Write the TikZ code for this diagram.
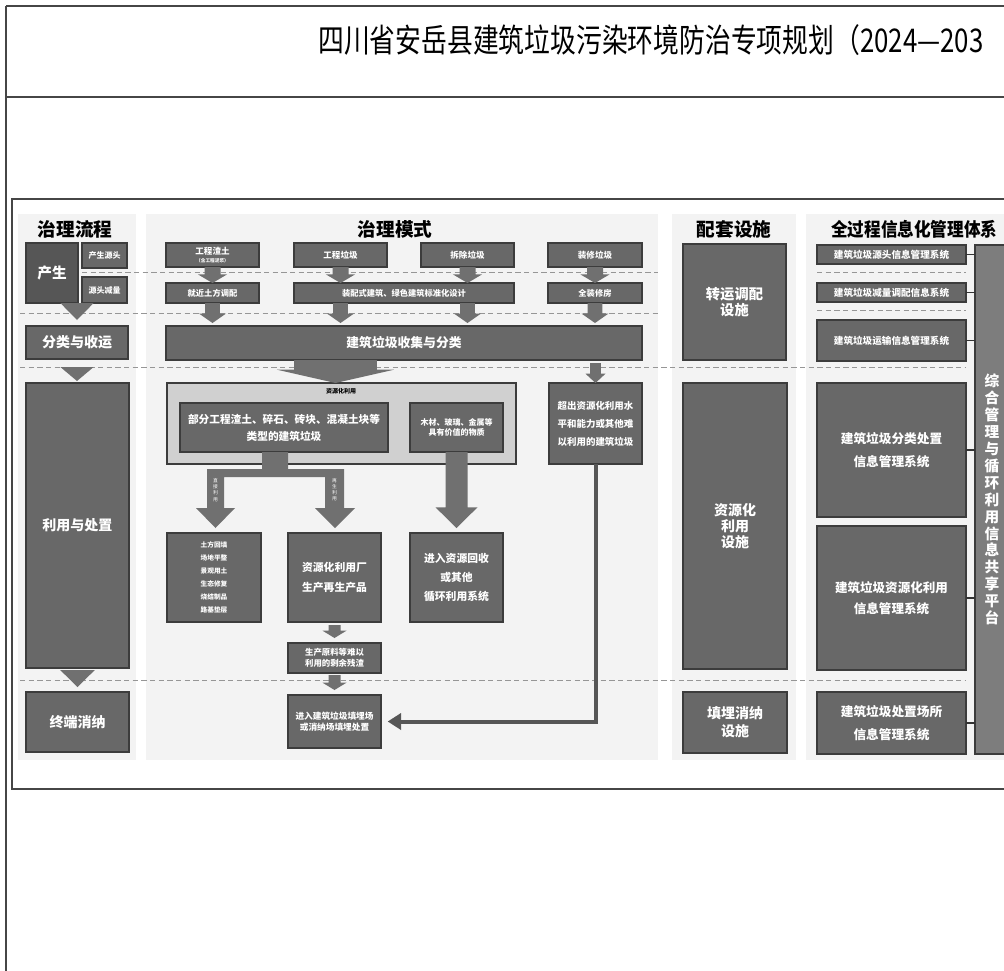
\documentclass[tikz,border=0pt]{standalone}
\usepackage{fontspec}
\setmainfont{Noto Sans CJK SC}
\newfontfamily\cjk{Noto Sans CJK SC}
\usepackage{graphicx}
\usetikzlibrary{arrows.meta,calc}
\definecolor{boxg}{RGB}{104,104,104}
\definecolor{boxdk}{RGB}{86,86,86}
\definecolor{boxd}{RGB}{60,60,60}
\definecolor{contg}{RGB}{208,208,208}
\definecolor{arwg}{RGB}{112,112,112}
\definecolor{panelg}{RGB}{243,243,243}
\definecolor{dashg}{RGB}{150,150,150}
\definecolor{frameg}{RGB}{70,70,70}
\definecolor{platg}{RGB}{125,125,125}
\tikzset{
 box/.style={draw=boxd,fill=boxg,line width=0.8pt,text=white,align=center,inner sep=1pt,outer sep=0pt,anchor=north west},
 fs/.style 2 args={font=\cjk\bfseries\fontsize{#1}{#2}\selectfont},
 hdr/.style={font=\cjk\bfseries\fontsize{14}{16}\selectfont,text=black,inner sep=0pt},
 dsh/.style={draw=dashg,line width=0.6pt,dash pattern=on 4pt off 2.5pt},
 arw/.style={fill=arwg},
 conn/.style={draw=boxdk,line width=3pt,-{Triangle[length=10pt,width=12pt]},shorten >=5pt},
 lk/.style={draw=black!80,line width=1.2pt},
 frm/.style={draw=frameg,line width=0.9pt},
 panel/.style={fill=panelg,draw=none}
}
% box: [opts]{name}{x,y}{w}{h}{text}  (pixel units, y downward)
\newcommand\bx[6][]{\node[box,minimum width=#4*0.75pt,minimum height=#5*0.75pt,#1] (#2) at (#3) {#6};}
% block arrow: from, to, body half, head half, head length
\newcommand\barrow[5]{%
 \fill[arw] let \p1=(#1), \p2=(#2) in
 (\x1-#3,\y1) -- (\x1+#3,\y1) -- (\x1+#3,\y2+#5) -- (\x1+#4,\y2+#5) -- (\x1,\y2) -- (\x1-#4,\y2+#5) -- (\x1-#3,\y2+#5) -- cycle;}
% triangle arrow: from, to, half width
\newcommand\triarrow[3]{%
 \fill[arw] let \p1=(#1), \p2=(#2) in (\x1-#3,\y1) -- (\x1+#3,\y1) -- (\x1,\y2) -- cycle;}
\begin{document}
\begin{tikzpicture}[x=0.75pt,y=-0.75pt]
\useasboundingbox (0,0) rectangle (1004,971);
\fill[white] (0,0) rectangle (1004,971);
% page frame
\draw[frm] (6,6) -- (1010,6);
\draw[frm] (6,97) -- (1010,97);
\draw[frm] (6,6) -- (6,975);
\node[anchor=west,inner sep=0pt,font=\cjk\fontsize{24.5}{28}\selectfont] (title) at (318,40) {\scalebox{0.79}[1]{四川省安岳县建筑垃圾污染环境防治专项规划（2024—203}};
% diagram frame
\draw[frm] (12,199) rectangle (1012,789);
% panels
\fill[panel] (18,214) rectangle (136,760);
\fill[panel] (146,214) rectangle (658,760);
\fill[panel] (672,214) rectangle (796,760);
\fill[panel] (806,214) rectangle (1012,760);
% headers
\node[hdr] (h1) at (75,229) {治理流程};
\node[hdr] (h2) at (395,229) {治理模式};
\node[hdr] (h3) at (734,229) {配套设施};
\node[hdr,anchor=west] (h4) at (831,229) {\scalebox{0.89}[1]{全过程信息化管理体系}};
% dashed separators
\draw[dsh] (82,272) -- (658,272);
\draw[dsh] (817,272) -- (966,272);
\draw[dsh] (20,313) -- (658,313);
\draw[dsh] (817,310) -- (966,310);
\draw[dsh] (20,367) -- (966,367);
\draw[dsh] (20,680) -- (966,680);
% column 1
\bx[fs={11}{13},fill=boxdk]{chan}{26,243}{52}{60}{产生}
\bx[fs={6}{8}]{yuan}{82,243}{45}{25}{产生源头}
\bx[fs={6}{8}]{jian}{82,277}{45}{26}{源头减量}
\bx[fs={10.5}{12}]{shouyun}{26,326}{102}{33}{分类与收运}
\bx[fs={10.5}{12}]{liyong}{26,383}{103}{285}{利用与处置}
\bx[fs={10.5}{12}]{zhongduan}{26,692}{103}{60}{终端消纳}
% column 2
\bx[fs={6.4}{7}]{s1}{166,243}{93}{24}{工程渣土\\[-1pt]{\fontsize{3.5}{4}\selectfont （含工程泥浆）}}
\bx[fs={6.4}{8}]{s2}{294,243}{93}{24}{工程垃圾}
\bx[fs={6.4}{8}]{s3}{421,243}{93}{24}{拆除垃圾}
\bx[fs={6.4}{8}]{s4}{548,243}{94}{24}{装修垃圾}
\bx[fs={6.2}{8}]{m1}{166,283}{93}{20}{就近土方调配}
\bx[fs={6.2}{8}]{m2}{294,283}{220}{20}{装配式建筑、绿色建筑标准化设计}
\bx[fs={6.2}{8}]{m3}{548,283}{94}{20}{全装修房}
\bx[fs={9.6}{11}]{collect}{166,326}{476}{34}{建筑垃圾收集与分类}
\bx[fill=contg]{zyh}{167,383}{349}{81}{}
\node[font=\cjk\bfseries\fontsize{4.5}{5}\selectfont,text=black,inner sep=0pt] (zyhl) at (341,391) {资源化利用};
\bx[fs={8}{12.75}]{in1}{180,403}{208}{49}{部分工程渣土、碎石、砖块、混凝土块等\\类型的建筑垃圾}
\bx[fs={6}{7.5}]{in2}{410,403}{93}{49}{木材、玻璃、金属等\\具有价值的物质}
\bx[fs={7.1}{13.5}]{exc}{549,383}{93}{81}{超出资源化利用水\\平和能力或其他难\\以利用的建筑垃圾}
\bx[fs={5}{9.75}]{b1}{167,533}{94}{89}{土方回填\\场地平整\\景观用土\\生态修复\\烧结制品\\路基垫层}
\bx[fs={8.1}{15}]{b2}{288,533}{93}{89}{资源化利用厂\\生产再生产品}
\bx[fs={8.1}{14.25}]{b3}{410,533}{93}{89}{进入资源回收\\或其他\\循环利用系统}
\bx[fs={6.3}{8.5}]{b4}{288,643}{93}{30}{生产原料等难以\\利用的剩余残渣}
\bx[fs={6.5}{8.5}]{land}{288,695}{93}{53}{进入建筑垃圾填埋场\\或消纳场填埋处置}
% column 3
\bx[fs={10.7}{12.5}]{zy}{683,244}{103}{116}{转运调配\\设施}
\bx[fs={10.5}{12}]{zyss}{683,383}{104}{286}{资源化\\利用\\设施}
\bx[fs={10.5}{13.5}]{tm}{683,692}{104}{61}{填埋消纳\\设施}
% column 4
\bx[fs={7.2}{9}]{i1}{817,245}{149}{19}{建筑垃圾源头信息管理系统}
\bx[fs={7.2}{9}]{i2}{817,283}{149}{19}{建筑垃圾减量调配信息系统}
\bx[fs={7.2}{9}]{i3}{817,320}{149}{41}{建筑垃圾运输信息管理系统}
\bx[fs={9.5}{17}]{i4}{817,383}{149}{134}{建筑垃圾分类处置\\信息管理系统}
\bx[fs={9.4}{16}]{i5}{817,526}{149}{144}{建筑垃圾资源化利用\\信息管理系统}
\bx[fs={9.5}{17}]{i6}{817,692}{149}{62}{建筑垃圾处置场所\\信息管理系统}
\bx[fs={11}{12.7},fill=platg]{plat}{975,245}{34}{509}{综\\合\\管\\理\\与\\循\\环\\利\\用\\信\\息\\共\\享\\平\\台}
% info links
\foreach \n in {i1,i2,i3,i4,i5,i6} \draw[lk] (\n.east) -- (\n.east -| plat.west);
% column 1 arrows
\triarrow{chan.south -| shouyun.north}{$(shouyun.north)+(0,-6)$}{12.5pt}
\triarrow{$(shouyun.south)+(0,8)$}{$(liyong.north)+(0,-2)$}{12.5pt}
\triarrow{$(liyong.south)+(0,2)$}{$(zhongduan.north)+(0,-5)$}{13pt}
% column 2 arrows
\barrow{s1.south}{m1.north}{6pt}{11pt}{6.5pt}
\barrow{s2.south}{s2.south |- m2.north}{6pt}{11pt}{6.5pt}
\barrow{s3.south}{s3.south |- m2.north}{6pt}{11pt}{6.5pt}
\barrow{s4.south}{m3.north}{6pt}{11pt}{6.5pt}
\barrow{m1.south}{$(m1.south |- collect.north)+(0,-3)$}{5.5pt}{10pt}{7pt}
\barrow{s2.south |- m2.south}{$(s2.south |- collect.north)+(0,-3)$}{5.5pt}{10pt}{7pt}
\barrow{s3.south |- m2.south}{$(s3.south |- collect.north)+(0,-3)$}{5.5pt}{10pt}{7pt}
\barrow{m3.south}{$(m3.south |- collect.north)+(0,-3)$}{5.5pt}{10pt}{7pt}
\barrow{$(zyh.north |- collect.south)+(-6,0)$}{$(zyh.north)+(-6,0)$}{31pt}{44pt}{10pt}
\barrow{$(exc.north |- collect.south)+(0,3)$}{exc.north}{4pt}{7.5pt}{7pt}
% branching arrow from in1
\fill[arw] (262,452) -- (288,452) -- (288,469) -- (344,469) -- (344,508) -- (355,508) -- (335,528) -- (315,508) -- (325,508) -- (325,477) -- (224,477) -- (224,508) -- (235,508) -- (215.5,528) -- (196,508) -- (207,508) -- (207,469) -- (262,469) -- cycle;
\node[font=\cjk\fontsize{3.6}{4.6}\selectfont,text=white,align=center,inner sep=0pt] (lab1) at (215.5,490) {直\\接\\利\\用};
\node[font=\cjk\fontsize{3.6}{4.6}\selectfont,text=white,align=center,inner sep=0pt] (lab2) at (334.5,490) {再\\生\\利\\用};
\barrow{in2.south}{$(b3.north)+(0,-5)$}{8.25pt}{15.75pt}{15.5pt}
\barrow{$(b2.south)+(0,3)$}{$(b4.north)+(0,-5)$}{4.5pt}{9pt}{5.5pt}
\barrow{$(b4.south)+(0,2)$}{$(land.north)+(0,-5)$}{4.5pt}{9pt}{5.5pt}
% connector
\draw[conn] (exc.south) |- (land.east);
\end{tikzpicture}
\end{document}
